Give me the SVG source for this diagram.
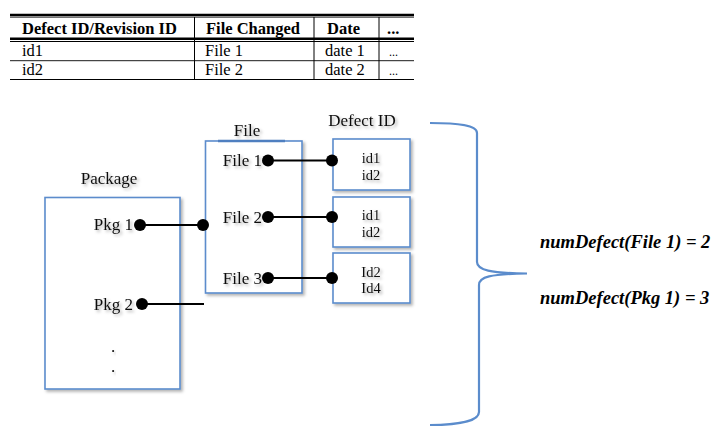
<svg xmlns="http://www.w3.org/2000/svg" width="716" height="427" viewBox="0 0 716 427">
<defs>
<filter id="sh" x="-20%" y="-20%" width="140%" height="140%">
<feDropShadow dx="2" dy="2" stdDeviation="1.5" flood-color="#000" flood-opacity="0.3"/>
</filter>
</defs>
<style>
.tb{font-family:"Liberation Serif",serif;font-size:16.5px;font-weight:bold;fill:#000}
.tr{font-family:"Liberation Serif",serif;font-size:16.5px;fill:#000}
.td{font-family:"Liberation Serif",serif;font-size:12px;fill:#000}
.lb{font-family:"Liberation Serif",serif;font-size:17px;fill:#111;filter:url(#sh)}
.id{font-family:"Liberation Serif",serif;font-size:14.5px;fill:#111;text-anchor:middle;filter:url(#sh)}
.box{fill:#fff;stroke:#5b8ccc;stroke-width:1.6;filter:url(#sh)}
.con{stroke:#000;stroke-width:2.2;fill:none}
.dot{fill:#000}
.eq{font-family:"Liberation Serif",serif;font-size:18.5px;font-weight:bold;font-style:italic;fill:#000}
.brace{fill:none;stroke:#5b8ccc;stroke-width:2.2}
</style>
<rect width="716" height="427" fill="#fff"/>
<g id="table">
<line x1="10" y1="15" x2="414" y2="15" stroke="#000" stroke-width="2.5"/>
<line x1="10" y1="17.2" x2="414" y2="17.2" stroke="#000" stroke-width="0.8"/>
<line x1="10" y1="38.7" x2="414" y2="38.7" stroke="#000" stroke-width="2.6"/>
<line x1="10" y1="41.5" x2="414" y2="41.5" stroke="#000" stroke-width="1"/>
<line x1="10" y1="60.7" x2="414" y2="60.7" stroke="#000" stroke-width="0.9"/>
<line x1="10" y1="79.5" x2="414" y2="79.5" stroke="#000" stroke-width="1"/>
<line x1="194.5" y1="17" x2="194.5" y2="80" stroke="#000" stroke-width="1"/>
<line x1="314" y1="17" x2="314" y2="80" stroke="#000" stroke-width="1"/>
<line x1="379" y1="17" x2="379" y2="80" stroke="#000" stroke-width="1"/>
<text class="tb" x="22" y="34">Defect ID/Revision ID</text>
<text class="tb" x="206" y="34">File Changed</text>
<text class="tb" x="327" y="34">Date</text>
<text class="tb" x="387" y="34">...</text>
<text class="tr" x="22" y="56">id1</text>
<text class="tr" x="205" y="56">File 1</text>
<text class="tr" x="325" y="56">date 1</text>
<text class="td" x="389" y="56">...</text>
<text class="tr" x="22" y="75">id2</text>
<text class="tr" x="205" y="75">File 2</text>
<text class="tr" x="325" y="75">date 2</text>
<text class="td" x="389" y="75">...</text>
</g>
<g id="package">
<rect class="box" x="45" y="197.5" width="135" height="191.5"/>
<text class="lb" x="109" y="184" text-anchor="middle">Package</text>
<text class="lb" x="133" y="230" text-anchor="end">Pkg 1</text>
<text class="lb" x="133" y="310" text-anchor="end">Pkg 2</text>
<text class="lb" x="113" y="352" text-anchor="middle">.</text>
<text class="lb" x="113" y="372" text-anchor="middle">.</text>
</g>
<g id="file">
<rect class="box" x="205.5" y="141" width="96.5" height="152"/>
<line x1="218" y1="141" x2="285" y2="141" stroke="#4f7fc0" stroke-width="2.6"/>
<text class="lb" x="247" y="136" text-anchor="middle">File</text>
<text class="lb" x="262" y="166" text-anchor="end">File 1</text>
<text class="lb" x="262" y="223" text-anchor="end">File 2</text>
<text class="lb" x="262" y="284" text-anchor="end">File 3</text>
</g>
<g id="defect1">
<rect class="box" x="333" y="139" width="77" height="51"/>
<text class="lb" x="362" y="126" text-anchor="middle">Defect ID</text>
<text class="id" x="371" y="163">id1</text>
<text class="id" x="371" y="180">id2</text>
</g>
<g id="defect2">
<rect class="box" x="333" y="197" width="77" height="50"/>
<text class="id" x="371" y="220">id1</text>
<text class="id" x="371" y="237">id2</text>
</g>
<g id="defect3">
<rect class="box" x="333" y="253" width="77" height="50"/>
<text class="id" x="371" y="277">Id2</text>
<text class="id" x="371" y="293">Id4</text>
</g>
<g id="connectors">
<line class="con" x1="140" y1="225" x2="203" y2="225"/>
<circle class="dot" cx="140" cy="225" r="6"/>
<circle class="dot" cx="203" cy="225" r="6"/>
<line class="con" x1="142" y1="304" x2="204" y2="304"/>
<circle class="dot" cx="142" cy="304" r="6"/>
<line class="con" x1="268" y1="160.5" x2="332" y2="160.5"/>
<circle class="dot" cx="268" cy="160.5" r="6"/>
<circle class="dot" cx="332" cy="160.5" r="6"/>
<line class="con" x1="268" y1="217" x2="332" y2="217"/>
<circle class="dot" cx="268" cy="217" r="6"/>
<circle class="dot" cx="332" cy="217" r="6"/>
<line class="con" x1="268" y1="278" x2="332" y2="278"/>
<circle class="dot" cx="268" cy="278" r="6"/>
<circle class="dot" cx="332" cy="278" r="6"/>
</g>
<g id="brace">
<path class="brace" d="M430,123 C458,123 477,125 477,133 L477,262 C477,270 490,273 527,273.5 C490,274 479,277 479,285 L479,412 C479,421 458,425 430,425"/>
</g>
<g id="results">
<text class="eq" x="540" y="248">numDefect(File 1) = 2</text>
<text class="eq" x="540" y="304">numDefect(Pkg 1) = 3</text>
</g>
</svg>
